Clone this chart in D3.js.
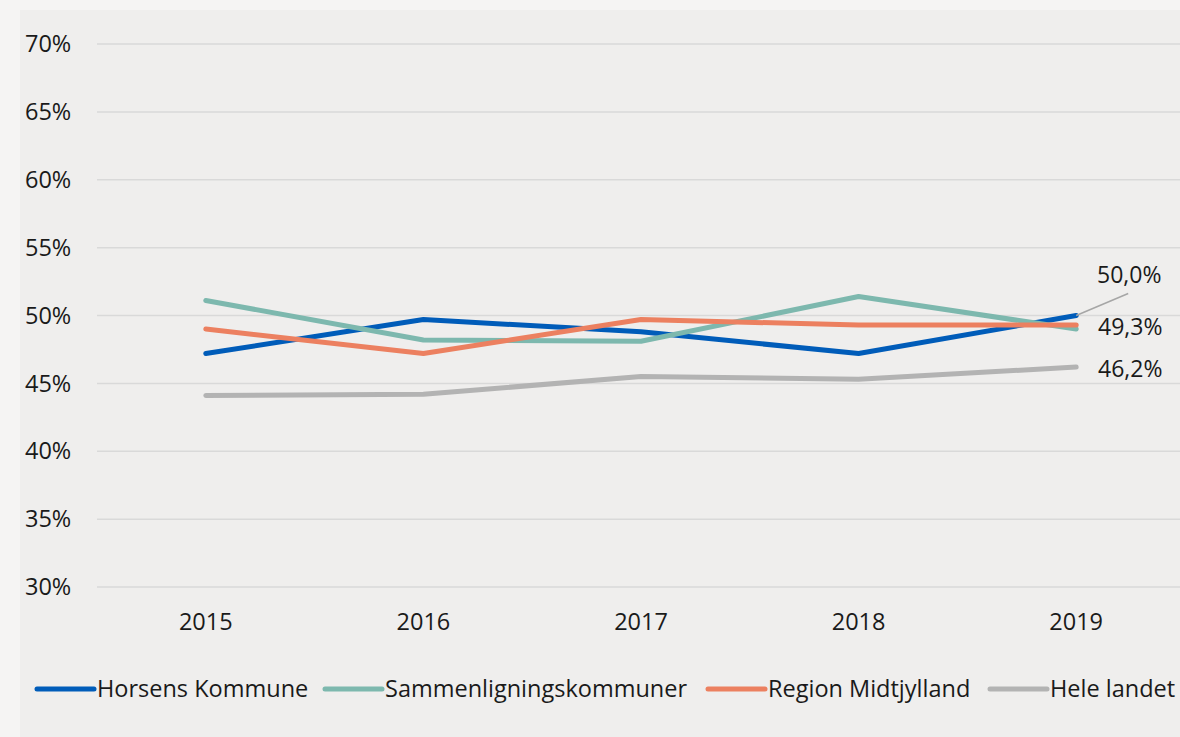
<!DOCTYPE html>
<html>
<head>
<meta charset="utf-8">
<title>Andel</title>
<script src="https://cdn.jsdelivr.net/npm/d3@7"></script>
<style>
	body { margin: 0; background: #f5f4f3; }
	svg { display: block; font-family: "Open Sans", sans-serif; }
</style>
</head>
<body>
<svg width="1180" height="737" class="chart"></svg>
<script>
	// data
	years = ['2015', '2016', '2017', '2018', '2019']
	horsens = [47.2, 49.7, 48.8, 47.2, 50.0]
	sammen = [51.1, 48.2, 48.1, 51.4, 49.0]
	region = [49.0, 47.2, 49.7, 49.3, 49.3]
	hele = [44.1, 44.2, 45.5, 45.3, 46.2]
	yTicks = [30, 35, 40, 45, 50, 55, 60, 65, 70]

	series = [
		{name: 'Horsens Kommune', values: horsens, color: '#005cb9'},
		{name: 'Sammenligningskommuner', values: sammen, color: '#7db8ae'},
		{name: 'Region Midtjylland', values: region, color: '#ec8060'},
		{name: 'Hele landet', values: hele, color: '#b3b3b3'}
	]

	svg = d3.select('.chart')

	svg.append('rect')
		.attr('x', 20).attr('y', 10)
		.attr('width', 1160).attr('height', 727)
		.attr('fill', '#efeeed')

	x = d3.scaleBand().domain(years).range([97, 1185])
	y = d3.scaleLinear().domain([30, 70]).range([587, 44])

	fmt = function(v) { return v.toFixed(1).replace('.', ',') + '%' }

	// grid
	svg.append('g').selectAll('line')
		.data(yTicks).enter().append('line')
		.attr('x1', 97).attr('x2', 1180)
		.attr('y1', function(d) { return y(d) }).attr('y2', function(d) { return y(d) })
		.attr('stroke', '#d9d9d9').attr('stroke-width', 1.5)

	svg.append('g').selectAll('text')
		.data(yTicks).enter().append('text')
		.attr('x', 25).attr('y', function(d) { return y(d) })
		.attr('dy', '0.35em')
		.attr('font-size', 23.5).attr('fill', '#1a1a1a')
		.text(function(d) { return d + '%' })

	svg.append('g').selectAll('text')
		.data(years).enter().append('text')
		.attr('x', function(d) { return x(d) + x.bandwidth() / 2 })
		.attr('y', 622).attr('dy', '0.35em')
		.attr('text-anchor', 'middle')
		.attr('font-size', 23.5).attr('fill', '#1a1a1a')
		.text(function(d) { return d })

	line = d3.line()
		.x(function(d, i) { return x(years[i]) + x.bandwidth() / 2 })
		.y(function(d) { return y(d) })

	svg.append('g').selectAll('path')
		.data(series).enter().append('path')
		.attr('d', function(d) { return line(d.values) })
		.attr('fill', 'none')
		.attr('stroke', function(d) { return d.color })
		.attr('stroke-width', 5)
		.attr('stroke-linecap', 'round')
		.attr('stroke-linejoin', 'round')

	// end labels
	lastX = x('2019') + x.bandwidth() / 2
	svg.append('line')
		.attr('x1', lastX).attr('y1', y(horsens[4]))
		.attr('x2', lastX + 52).attr('y2', y(horsens[4]) - 22)
		.attr('stroke', '#a6a6a6').attr('stroke-width', 1.5)

	labels = [
		{v: horsens[4], x: 1097, y: 275},
		{v: region[4], x: 1098, y: 327},
		{v: hele[4], x: 1098, y: 369}
	]
	svg.append('g').selectAll('text')
		.data(labels).enter().append('text')
		.attr('x', function(d) { return d.x }).attr('y', function(d) { return d.y })
		.attr('dy', '0.35em')
		.attr('text-anchor', 'start')
		.attr('font-size', 23).attr('fill', '#1a1a1a')
		.text(function(d) { return fmt(d.v) })

	// legend
	legX = [37, 325, 708, 990]
	leg = svg.append('g').selectAll('g')
		.data(series).enter().append('g')
		.attr('transform', function(d, i) { return 'translate(' + legX[i] + ',689)' })
	leg.append('line')
		.attr('x1', 0).attr('x2', 57)
		.attr('stroke', function(d) { return d.color })
		.attr('stroke-width', 5).attr('stroke-linecap', 'round')
	leg.append('text')
		.attr('x', 60).attr('dy', '0.35em')
		.attr('font-size', 23.5).attr('fill', '#1a1a1a')
		.text(function(d) { return d.name })
</script>
</body>
</html>
